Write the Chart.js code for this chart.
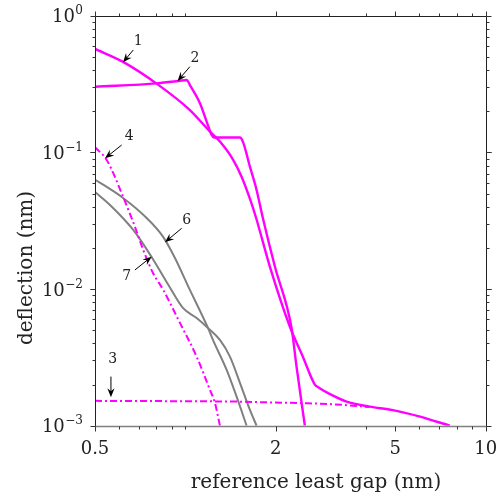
<!DOCTYPE html>
<html>
<head>
<meta charset="utf-8">
<script src="https://cdn.jsdelivr.net/npm/chart.js@4/dist/chart.umd.min.js"></script>
<style>
html, body { margin: 0; padding: 0; background: #fff; }
</style>
</head>
<body>
<canvas id="chart" width="496" height="500"></canvas>
<script>
// reference least gap (nm) and deflection (nm) for each numbered curve
var gap1 = [0.5, 0.62, 0.804, 1.035, 1.207, 1.303, 1.439, 1.5385, 1.645, 1.72, 1.911, 2.228, 2.461, 2.698, 2.761, 3.067, 3.441, 4.11, 4.905, 6.0, 7.59];
var defl1 = [0.571, 0.459, 0.317, 0.204, 0.142, 0.12, 0.089, 0.0664, 0.0449, 0.0331, 0.0146, 0.0053, 0.0032, 0.0020, 0.00192, 0.00168, 0.0015, 0.00138, 0.0013, 0.00117, 0.001];

var gap2 = [0.5, 0.804, 0.95, 1.01, 1.035, 1.118, 1.177, 1.223, 1.245, 1.519, 1.554, 1.64, 1.726, 1.811, 1.986, 2.257, 2.345, 2.499];
var defl2 = [0.302, 0.320, 0.333, 0.3385, 0.311, 0.229, 0.168, 0.134, 0.1286, 0.1286, 0.1198, 0.0786, 0.0531, 0.0331, 0.0146, 0.00519, 0.0027, 0.001];

var gap3 = [0.5, 1.0, 1.5, 1.91, 2.5, 3.0, 3.5, 4.1];
var defl3 = [0.00152, 0.00151, 0.0015, 0.00148, 0.00146, 0.00144, 0.00141, 0.00137];

var gap4 = [0.5, 0.547, 0.62, 0.679, 0.724, 0.78, 0.844, 0.959, 1.09, 1.207, 1.254, 1.303];
var defl4 = [0.109, 0.088, 0.0474, 0.0286, 0.0193, 0.0131, 0.00985, 0.00565, 0.0032, 0.00183, 0.00147, 0.001];

var gap6 = [0.5, 0.62, 0.743, 0.842, 0.923, 1.035, 1.189, 1.235, 1.372, 1.481, 1.599];
var defl6 = [0.0633, 0.0464, 0.0331, 0.0242, 0.01688, 0.00985, 0.00519, 0.00424, 0.00256, 0.00163, 0.001];

var gap7 = [0.5, 0.561, 0.6705, 0.777, 0.878, 0.981, 1.09, 1.189, 1.303, 1.407, 1.519, 1.64, 1.726];
var defl7 = [0.0513, 0.0412, 0.02705, 0.01675, 0.01071, 0.00727, 0.00614, 0.00519, 0.00424, 0.0032, 0.00206, 0.001305, 0.001];

// labelled axis ticks
var xTickValues = [0.5, 2, 5, 10];
var xTickLabels = ['0.5', '2', '5', '10'];
var yTickValues = [1, 0.1, 0.01, 0.001];
var yTickExponents = ['0', '\u22121', '\u22122', '\u22123'];

// curve callouts: label, label position, arrow tail, arrow tip (data units)
var calloutLabels = ['1', '2', '3', '4', '6', '7'];
var calloutText = [[0.697, 0.653], [1.076, 0.488], [0.5727, 0.00308], [0.65, 0.1318], [1.01, 0.032], [0.6376, 0.01232]];
var calloutFrom = [[0.6705, 0.5614], [1.035, 0.4236], [0.565, 0.002287], [0.6136, 0.1132], [0.972, 0.02784], [0.6793, 0.0138]];
var calloutTo = [[0.62, 0.456], [0.942, 0.333], [0.565, 0.001616], [0.54, 0.0906], [0.855, 0.022], [0.772, 0.01726]];

var MAGENTA = '#ff00ff';
var GREY = '#808080';
var SERIF = '"DejaVu Serif", "Liberation Serif", serif';

function pairs(xs, ys) {
	return xs.map(function (x, i) { return { x: x, y: ys[i] }; });
}

function curve(xs, ys, color, width, dash) {
	return {
		data: pairs(xs, ys),
		borderColor: color,
		borderWidth: width,
		borderDash: dash || [],
		pointRadius: 0,
		showLine: true,
		fill: false,
		cubicInterpolationMode: 'monotone'
	};
}

function arrow(ctx, x0, y0, x1, y1) {
	var a = Math.atan2(y1 - y0, x1 - x0);
	var len = 9, half = 3.6;
	ctx.beginPath();
	ctx.moveTo(x0, y0);
	ctx.lineTo(x1 - Math.cos(a) * len * 0.6, y1 - Math.sin(a) * len * 0.6);
	ctx.stroke();
	ctx.save();
	ctx.translate(x1, y1);
	ctx.rotate(a);
	ctx.beginPath();
	ctx.moveTo(0, 0);
	ctx.lineTo(-len, -half);
	ctx.lineTo(-len * 0.65, 0);
	ctx.lineTo(-len, half);
	ctx.closePath();
	ctx.fill();
	ctx.restore();
}

// box, outward ticks, labels and callouts
var frame = {
	id: 'frame',
	afterDraw: function (chart) {
		var ctx = chart.ctx;
		var a = chart.chartArea;
		var xs = chart.scales.x, ys = chart.scales.y;
		var L = Math.round(a.left) + 0.5, R = Math.round(a.right) + 0.5;
		var T = Math.round(a.top) + 0.5, B = Math.round(a.bottom) + 0.5;
		ctx.save();

		ctx.strokeStyle = '#222';
		ctx.lineWidth = 1;
		ctx.beginPath();
		ctx.moveTo(L, B); ctx.lineTo(L, T); ctx.lineTo(R, T); ctx.lineTo(R, B);
		ctx.stroke();
		ctx.strokeStyle = GREY;
		ctx.lineWidth = 1.6;
		ctx.beginPath();
		ctx.moveTo(L, B); ctx.lineTo(R, B);
		ctx.stroke();

		ctx.strokeStyle = '#333';
		ctx.lineWidth = 1;
		var v, m, d, px, len;
		for (d = 0.1; d <= 10; d *= 10) {
			for (m = 1; m <= 9; m++) {
				v = Math.round(m * d * 100) / 100;
				if (v < 0.5 || v > 10) continue;
				px = Math.round(xs.getPixelForValue(v)) + 0.5;
				len = xTickValues.indexOf(v) >= 0 ? 5 : 3;
				ctx.beginPath();
				ctx.moveTo(px, B); ctx.lineTo(px, B + len);
				ctx.moveTo(px, T); ctx.lineTo(px, T - len);
				ctx.stroke();
			}
		}
		for (d = 0.001; d < 1; d *= 10) {
			for (m = 1; m <= 10; m++) {
				v = m * d;
				px = Math.round(ys.getPixelForValue(v)) + 0.5;
				len = (m === 1 || m === 10) ? 5 : 3;
				ctx.beginPath();
				ctx.moveTo(L, px); ctx.lineTo(L - len, px);
				ctx.moveTo(R, px); ctx.lineTo(R + len, px);
				ctx.stroke();
			}
		}

		ctx.fillStyle = '#222';
		ctx.font = '18px ' + SERIF;
		ctx.textAlign = 'center';
		ctx.textBaseline = 'alphabetic';
		xTickValues.forEach(function (t, i) {
			ctx.fillText(xTickLabels[i], xs.getPixelForValue(t), a.bottom + 28.5);
		});

		yTickValues.forEach(function (t, i) {
			var py = ys.getPixelForValue(t);
			ctx.font = '12px ' + SERIF;
			var wSup = ctx.measureText(yTickExponents[i]).width;
			ctx.textAlign = 'right';
			ctx.fillText(yTickExponents[i], 83, py - 1.5);
			ctx.font = '18px ' + SERIF;
			ctx.fillText('10', 83 - wSup - 0.5, py + 6.5);
		});

		ctx.font = '20px ' + SERIF;
		ctx.textAlign = 'center';
		ctx.fillText('reference least gap (nm)', 316, 488);
		ctx.save();
		ctx.translate(31.5, 268);
		ctx.rotate(-Math.PI / 2);
		ctx.fillText('deflection (nm)', 0, 0);
		ctx.restore();

		ctx.strokeStyle = '#000';
		ctx.lineWidth = 1;
		ctx.font = '14px ' + SERIF;
		ctx.textBaseline = 'middle';
		calloutLabels.forEach(function (lab, i) {
			ctx.fillStyle = '#222';
			ctx.fillText(lab, xs.getPixelForValue(calloutText[i][0]), ys.getPixelForValue(calloutText[i][1]));
			ctx.fillStyle = '#000';
			arrow(ctx,
				xs.getPixelForValue(calloutFrom[i][0]), ys.getPixelForValue(calloutFrom[i][1]),
				xs.getPixelForValue(calloutTo[i][0]), ys.getPixelForValue(calloutTo[i][1]));
		});
		ctx.restore();
	}
};

new Chart(document.getElementById('chart'), {
	type: 'scatter',
	data: {
		datasets: [
			curve(gap1, defl1, MAGENTA, 2.4),
			curve(gap2, defl2, MAGENTA, 2.4),
			curve(gap3, defl3, MAGENTA, 2, [7, 3, 2, 3]),
			curve(gap4, defl4, MAGENTA, 2, [7, 3, 2, 3]),
			curve(gap6, defl6, GREY, 2),
			curve(gap7, defl7, GREY, 2)
		]
	},
	options: {
		responsive: false,
		animation: false,
		layout: { padding: { top: 15.7, right: 10.3, left: 0, bottom: 0 } },
		plugins: {
			legend: { display: false },
			tooltip: { enabled: false }
		},
		scales: {
			x: {
				type: 'logarithmic',
				min: 0.5,
				max: 10,
				ticks: { display: false },
				grid: { display: false },
				border: { display: false },
				afterFit: function (scale) { scale.height = 74.3; }
			},
			y: {
				type: 'logarithmic',
				min: 0.001,
				max: 1,
				ticks: { display: false },
				grid: { display: false },
				border: { display: false },
				afterFit: function (scale) { scale.width = 95; }
			}
		}
	},
	plugins: [frame]
});
</script>
</body>
</html>
